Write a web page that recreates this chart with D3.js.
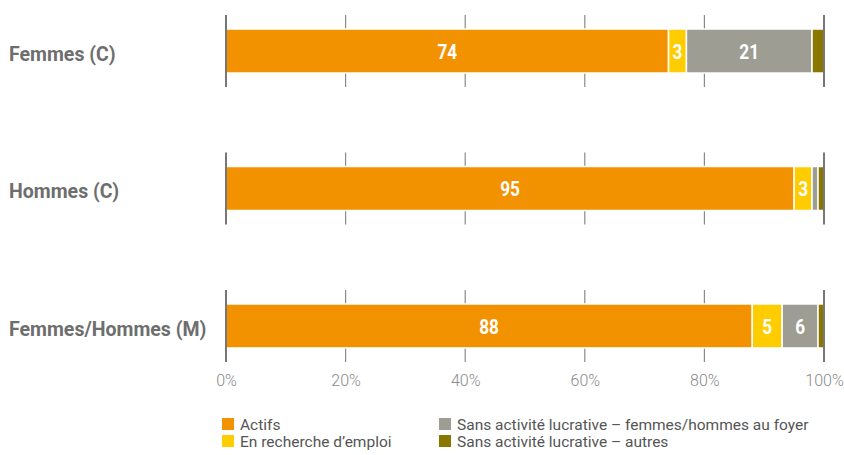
<!DOCTYPE html>
<html><head><meta charset="utf-8">
<script src="https://cdn.jsdelivr.net/npm/d3@7"></script>
<style>
body{margin:0;background:#fff;}
text{font-family:"Roboto",sans-serif;}
</style></head>
<body><svg id="c" width="844" height="455"></svg>
<script>
const categories = ["Femmes (C)", "Hommes (C)", "Femmes/Hommes (M)"];
const seriesNames = ["Actifs", "En recherche d’emploi", "Sans activité lucrative – femmes/hommes au foyer", "Sans activité lucrative – autres"];
const actifs = [74, 95, 88];
const recherche = [3, 3, 5];
const foyer = [21, 1, 6];
const autres = [2, 1, 1];
const tickValues = [0, 20, 40, 60, 80, 100];
const colors = ["#f39200", "#ffcc00", "#9d9d94", "#8a7700"];

const svg = d3.select("#c");
const x = d3.scaleLinear().domain([0, 100]).range([226, 824]);
const y = d3.scaleBand().domain(categories).range([15, 362]).paddingInner(0.476).paddingOuter(0);
const rows = categories.map((c, i) => ({cat: c, a: actifs[i], r: recherche[i], f: foyer[i], o: autres[i]}));
const keys = ["a", "r", "f", "o"];
const stack = d3.stack().keys(keys)(rows);

const barH = 44;
const gridExt = 14;
const bandCenter = c => y(c) + y.bandwidth() / 2;

// gridlines per group
categories.forEach(c => {
  const cy = bandCenter(c);
  svg.append("g").selectAll("line").data(tickValues.filter(d => d > 0 && d < 100)).join("line")
    .attr("x1", d => x(d)).attr("x2", d => x(d))
    .attr("y1", cy - barH / 2 - gridExt).attr("y2", cy + barH / 2 + gridExt)
    .attr("stroke", "#8a8a8a").attr("stroke-width", 1.2);
});

// bars
stack.forEach((layer, k) => {
  svg.append("g").selectAll("rect").data(layer).join("rect")
    .attr("x", d => x(d[0])).attr("width", d => x(d[1]) - x(d[0]))
    .attr("y", d => bandCenter(d.data.cat) - barH / 2).attr("height", barH)
    .attr("fill", colors[k]).attr("stroke", "#fff").attr("stroke-width", 1.5);
  if (k < 3) {
    svg.append("g").selectAll("text").data(layer.filter(d => d[1] - d[0] >= 3)).join("text")
      .attr("transform", d => `translate(${x((d[0] + d[1]) / 2)},${bandCenter(d.data.cat)}) scale(0.82,1)`)
      .attr("dy", "0.36em").attr("text-anchor", "middle")
      .attr("fill", "#fff").attr("font-weight", "bold").attr("font-size", 21)
      .text(d => d[1] - d[0]);
  }
});

// end lines above bars
categories.forEach(c => {
  const cy = bandCenter(c);
  svg.append("g").selectAll("line").data([0, 100]).join("line")
    .attr("x1", d => x(d)).attr("x2", d => x(d))
    .attr("y1", cy - barH / 2 - gridExt).attr("y2", cy + barH / 2 + gridExt)
    .attr("stroke", "#777").attr("stroke-width", 2);
});

// category labels
svg.append("g").selectAll("text").data(categories).join("text")
  .attr("transform", c => `translate(9,${bandCenter(c) + 2}) scale(0.93,1)`)
  .attr("dy", "0.36em")
  .attr("fill", "#6e6e6e").attr("font-weight", "bold").attr("font-size", 21)
  .text(c => c);

// x axis labels
const axis = d3.axisBottom(x).tickValues(tickValues).tickSize(0).tickFormat(d => d + "%");
const ag = svg.append("g").attr("transform", "translate(0,372)").call(axis);
ag.select(".domain").remove();
ag.selectAll("text").attr("fill", "#8a8a8a").attr("font-size", 16).attr("font-weight", 300)
  .attr("font-family", "Roboto,sans-serif");

// legend
const lg = svg.append("g");
seriesNames.forEach((n, i) => {
  const col = i < 2 ? 0 : 1, row = i % 2;
  const lx = 222 + col * 217, ly = 418 + row * 17;
  lg.append("rect").attr("x", lx).attr("y", ly).attr("width", 12).attr("height", 12).attr("fill", colors[i]);
  lg.append("text").attr("x", lx + 18).attr("y", ly + 6).attr("dy", "0.36em")
    .attr("fill", "#555").attr("font-size", 15.5).text(n);
});
</script></body></html>
